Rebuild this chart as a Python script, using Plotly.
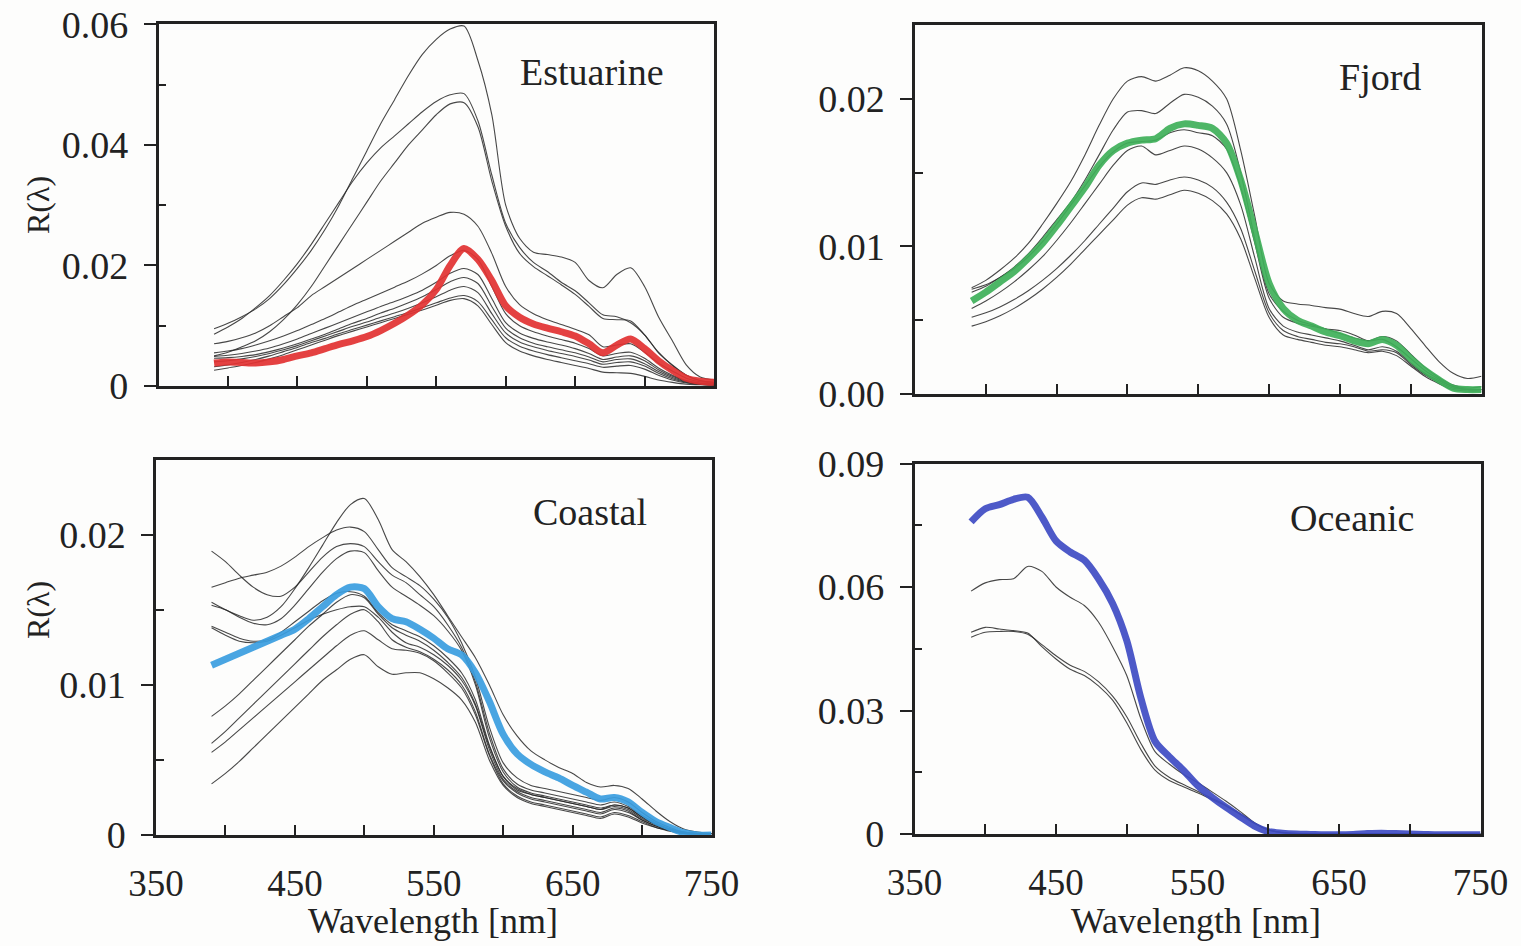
import plotly.graph_objects as go

# ---------------- data (reflectance values in units of 1e-3) ----------------
WL = [390, 400, 410, 420, 430, 440, 450, 460, 470, 480, 490, 500, 510, 520, 530,
      540, 550, 560, 570, 580, 590, 600, 610, 620, 630, 640, 650, 660, 670, 680,
      690, 700, 710, 720, 730, 740, 750]

# Estuarine
est_mean = [3.8, 4.0, 3.9, 3.8, 4.0, 4.4, 5.0, 5.5, 6.2, 6.9, 7.5, 8.2, 9.2, 10.4, 11.8, 13.5, 16.0, 20.0, 22.8,
            21.0, 17.5, 13.3, 11.4, 10.3, 9.6, 9.0, 8.3, 7.0, 5.5, 6.8, 7.8, 6.2, 4.2, 2.6, 1.3, 0.8, 0.6]
est_a = [9.5, 10.4, 11.5, 12.8, 14.5, 16.8, 19.5, 22.5, 26.0, 30.0, 34.5, 39.0, 43.5, 47.5, 51.5, 55.0, 57.5, 59.2, 59.7,
         54.0, 45.0, 30.0, 24.5, 22.2, 21.8, 21.4, 20.5, 17.5, 16.3, 18.5, 19.6, 16.5, 11.5, 7.5, 3.5, 1.5, 1.0]
est_b = [8.6, 9.8, 11.2, 13.0, 15.0, 17.5, 20.3, 23.5, 27.0, 30.5, 34.0, 37.0, 39.5, 41.5, 43.5, 45.5, 47.2, 48.3, 48.5,
         44.0, 35.0, 27.0, 23.0, 20.5, 19.0, 17.2, 15.8, 13.8, 11.8, 11.5, 10.5, 8.5, 5.5, 3.5, 1.8, 0.9, 0.6]
est_c = [5.0, 5.6, 6.5, 7.5, 9.0, 11.0, 13.5, 16.5, 20.0, 23.5, 27.0, 30.5, 34.0, 37.0, 40.0, 42.5, 45.0, 46.8, 47.0,
         43.0, 34.0, 26.5, 22.0, 19.8, 18.3, 16.8, 15.2, 13.2, 11.2, 11.0, 10.8, 8.5, 5.6, 3.4, 1.8, 0.9, 0.6]
est_d = [7.0, 7.4, 8.0, 8.8, 10.0, 11.5, 13.0, 15.0, 16.5, 18.0, 19.5, 21.0, 22.5, 24.0, 25.5, 27.0, 28.0, 28.8, 28.5,
         26.5, 22.0, 16.5, 13.5, 12.0, 11.0, 10.2, 9.4, 8.5, 6.5, 6.8, 7.0, 5.6, 3.8, 2.5, 1.3, 0.7, 0.5]
est_e = [5.5, 5.8, 6.2, 6.8, 7.5, 8.3, 9.2, 10.2, 11.2, 12.3, 13.4, 14.4, 15.4, 16.4, 17.4, 18.6, 20.0, 21.6, 22.5,
         21.0, 16.5, 12.0, 10.0, 9.0, 8.3, 7.7, 7.1, 6.2, 5.0, 5.4, 5.6, 4.6, 3.0, 1.8, 0.9, 0.5, 0.4]
est_f = [4.9, 5.1, 5.4, 5.8, 6.3, 7.0, 7.8, 8.7, 9.6, 10.5, 11.4, 12.3, 13.2, 14.0, 14.9, 15.9, 17.2, 18.7, 19.5,
         18.5, 14.5, 10.5, 8.8, 7.9, 7.3, 6.8, 6.2, 5.4, 4.4, 4.8, 5.0, 4.2, 2.7, 1.6, 0.8, 0.4, 0.3]
est_g = [4.6, 4.7, 4.9, 5.2, 5.7, 6.3, 7.0, 7.8, 8.6, 9.5, 10.4, 11.2, 12.1, 12.9, 13.8, 14.8, 16.0, 17.3, 18.0,
         17.0, 13.2, 9.6, 8.0, 7.1, 6.5, 6.0, 5.5, 4.8, 4.0, 4.4, 4.5, 3.7, 2.4, 1.4, 0.7, 0.4, 0.3]
est_h = [4.0, 4.2, 4.5, 4.9, 5.4, 6.0, 6.7, 7.5, 8.3, 9.1, 9.9, 10.6, 11.4, 12.1, 12.9, 13.8, 14.8, 15.9, 16.5,
         15.5, 12.0, 8.8, 7.3, 6.5, 5.9, 5.4, 4.9, 4.3, 3.6, 3.9, 4.0, 3.3, 2.1, 1.2, 0.6, 0.3, 0.2]
est_i = [3.2, 3.5, 3.9, 4.4, 5.0, 5.7, 6.4, 7.2, 7.9, 8.7, 9.4, 10.1, 10.8, 11.5, 12.2, 13.0, 13.8, 14.6, 15.0,
         14.0, 11.0, 8.0, 6.6, 5.8, 5.2, 4.7, 4.2, 3.7, 3.1, 3.3, 3.4, 2.8, 1.8, 1.0, 0.5, 0.3, 0.2]
est_j = [2.6, 3.0, 3.4, 3.9, 4.5, 5.2, 6.0, 6.8, 7.6, 8.4, 9.1, 9.8, 10.5, 11.2, 11.9, 12.6, 13.4, 14.2, 14.5,
         13.3, 10.2, 7.2, 5.8, 5.0, 4.4, 3.9, 3.4, 2.9, 2.3, 2.2, 2.1, 1.6, 1.0, 0.6, 0.3, 0.2, 0.1]

# Fjord
fjo_mean = [6.3, 6.9, 7.6, 8.3, 9.2, 10.2, 11.4, 12.7, 14.0, 15.5, 16.5, 17.0, 17.2, 17.3, 18.0, 18.3, 18.2, 18.0, 17.0,
            14.5, 11.0, 7.5, 5.8, 5.0, 4.6, 4.2, 3.95, 3.6, 3.4, 3.7, 3.3, 2.4, 1.6, 0.95, 0.4, 0.3, 0.3]
fjo_a = [7.2, 7.7, 8.4, 9.2, 10.2, 11.5, 12.9, 14.4, 16.2, 18.2, 20.0, 21.2, 21.5, 21.2, 21.6, 22.1, 21.9, 21.2, 20.0,
         16.5, 12.0, 7.5, 6.3, 6.1, 6.0, 5.85, 5.75, 5.45, 5.25, 5.6, 5.45, 4.45, 3.3, 2.2, 1.4, 1.05, 1.2]
fjo_b = [6.9, 7.3, 7.9, 8.6, 9.5, 10.6, 11.8, 13.0, 14.5, 16.2, 17.9, 19.1, 19.2, 19.0, 19.7, 20.3, 20.1, 19.5, 18.3,
         15.0, 10.5, 6.8, 5.6, 5.0, 4.7, 4.4, 4.1, 3.8, 3.6, 3.9, 3.6, 2.7, 1.8, 1.1, 0.6, 0.4, 0.5]
fjo_c = [7.1, 7.4, 7.9, 8.5, 9.3, 10.3, 11.5, 12.8, 14.1, 15.4, 16.4, 17.0, 17.1, 17.2, 17.7, 17.9, 17.7, 17.5, 16.6,
         14.0, 10.2, 6.5, 5.2, 4.8, 4.6, 4.4, 4.3, 4.0, 3.6, 3.7, 3.2, 2.4, 1.6, 1.0, 0.5, 0.3, 0.3]
fjo_d = [5.8, 6.3, 6.9, 7.6, 8.4, 9.3, 10.4, 11.6, 12.9, 14.2, 15.5, 16.5, 16.8, 16.2, 16.5, 16.8, 16.6, 16.0, 15.0,
         12.8, 9.2, 5.8, 4.6, 4.2, 4.0, 3.8, 3.6, 3.3, 3.0, 3.2, 2.9, 2.1, 1.4, 0.9, 0.5, 0.3, 0.3]
fjo_e = [5.2, 5.5, 5.9, 6.4, 7.0, 7.7, 8.5, 9.4, 10.4, 11.5, 12.6, 13.7, 14.3, 14.2, 14.5, 14.7, 14.5, 14.0, 13.0,
         11.2, 8.3, 5.5, 4.3, 3.9, 3.7, 3.5, 3.4, 3.2, 2.9, 3.0, 2.8, 2.0, 1.3, 0.8, 0.4, 0.3, 0.3]
fjo_f = [4.6, 4.9, 5.3, 5.8, 6.4, 7.1, 7.9, 8.8, 9.8, 10.8, 11.8, 12.8, 13.3, 13.2, 13.5, 13.8, 13.6, 13.1, 12.2,
         10.5, 7.8, 5.2, 4.0, 3.7, 3.5, 3.3, 3.2, 3.0, 2.8, 2.9, 2.6, 1.9, 1.2, 0.7, 0.3, 0.2, 0.2]

# Coastal
coa_mean = [11.3, 11.7, 12.1, 12.5, 12.9, 13.3, 13.7, 14.4, 15.2, 16.0, 16.5, 16.4, 15.2, 14.4, 14.2, 13.7, 13.1, 12.4, 12.0,
            10.8, 8.9, 6.7, 5.4, 4.7, 4.2, 3.8, 3.3, 2.85, 2.4, 2.5, 2.2, 1.5, 0.9, 0.5, 0.15, 0.0, 0.0]
coa_a = [15.5, 15.0, 14.6, 14.3, 14.5, 15.2, 16.4, 17.8, 19.3, 20.8, 22.0, 22.4, 21.0, 19.0, 18.2, 17.2, 16.0, 14.6, 13.2,
         11.8, 10.0, 8.0, 6.6, 5.6, 5.0, 4.5, 4.1, 3.5, 3.2, 3.3, 3.1, 2.4, 1.6, 0.9, 0.4, 0.2, 0.1]
coa_b = [18.9, 18.2, 17.3, 16.5, 16.0, 15.9, 16.5, 17.5, 18.5, 19.2, 19.4, 19.2, 18.2, 17.3, 16.8, 16.0, 15.2, 14.0, 12.5,
         10.2, 6.8, 4.4, 3.4, 3.0, 2.8, 2.6, 2.4, 2.2, 2.0, 2.2, 1.9, 1.3, 0.8, 0.4, 0.2, 0.1, 0.1]
coa_c = [16.5, 16.8, 17.1, 17.3, 17.5, 17.9, 18.5, 19.2, 19.8, 20.3, 20.5, 20.2, 19.0, 17.8, 17.2, 16.6, 15.7, 14.5, 12.8,
         10.5, 7.2, 4.8, 3.8, 3.3, 3.1, 2.9, 2.7, 2.5, 2.3, 2.5, 2.2, 1.5, 0.9, 0.5, 0.2, 0.1, 0.1]
coa_d = [15.3, 15.0, 14.5, 14.1, 14.0, 14.4, 15.3, 16.4, 17.5, 18.4, 18.9, 18.8, 17.6, 16.5, 15.9, 15.3, 14.6, 13.6, 12.3,
         10.0, 6.5, 4.2, 3.2, 2.8, 2.6, 2.4, 2.2, 2.0, 1.8, 2.0, 1.8, 1.2, 0.7, 0.4, 0.2, 0.1, 0.1]
coa_e = [13.9, 13.5, 13.1, 12.9, 13.0, 13.5, 14.2, 14.9, 15.6, 16.1, 16.2, 15.9, 14.8, 14.0, 13.6, 13.2, 12.6, 11.8, 10.8,
         9.0, 6.0, 3.9, 3.0, 2.7, 2.5, 2.3, 2.1, 1.9, 1.7, 1.9, 1.7, 1.1, 0.7, 0.35, 0.15, 0.1, 0.1]
coa_f = [13.8, 13.3, 12.9, 12.8, 12.9, 13.3, 13.8, 14.3, 14.7, 15.0, 15.2, 15.2, 14.5, 13.5, 12.8, 12.5, 12.0, 11.3, 10.3,
         8.6, 5.7, 3.7, 2.9, 2.5, 2.3, 2.1, 1.9, 1.7, 1.5, 1.8, 1.6, 1.0, 0.6, 0.3, 0.15, 0.1, 0.1]
coa_g = [7.9, 8.6, 9.4, 10.3, 11.2, 12.1, 13.0, 13.9, 14.7, 15.5, 16.0, 15.8, 14.7, 13.8, 13.3, 12.9, 12.3, 11.5, 10.5,
         8.7, 5.9, 3.9, 3.1, 2.7, 2.5, 2.3, 2.1, 1.9, 1.7, 2.0, 1.8, 1.2, 0.7, 0.4, 0.2, 0.1, 0.1]
coa_h = [6.1, 6.9, 7.8, 8.7, 9.6, 10.5, 11.4, 12.3, 13.2, 14.0, 14.7, 15.0, 14.2, 13.0, 12.5, 12.2, 11.7, 11.0, 10.0,
         8.2, 5.4, 3.6, 2.8, 2.4, 2.2, 2.0, 1.8, 1.6, 1.4, 1.7, 1.5, 1.0, 0.6, 0.3, 0.1, 0.1, 0.1]
coa_i = [5.5, 6.2, 7.0, 7.8, 8.6, 9.4, 10.2, 11.0, 11.8, 12.6, 13.3, 13.6, 13.0, 12.4, 12.3, 12.1, 11.6, 10.8, 9.8,
         8.0, 5.3, 3.4, 2.6, 2.2, 2.0, 1.8, 1.6, 1.4, 1.2, 1.5, 1.3, 0.9, 0.5, 0.3, 0.1, 0.05, 0.05]
coa_j = [3.4, 4.1, 4.9, 5.8, 6.7, 7.6, 8.5, 9.4, 10.3, 11.0, 11.7, 12.0, 11.2, 10.7, 10.8, 10.8, 10.4, 9.8, 9.0,
         7.5, 5.0, 3.3, 2.5, 2.1, 1.9, 1.7, 1.5, 1.3, 1.1, 1.4, 1.2, 0.8, 0.5, 0.25, 0.1, 0.05, 0.05]

# Oceanic
oce_mean = [75.8, 79.0, 80.0, 81.3, 81.8, 77.0, 71.2, 68.5, 66.5, 62.0, 56.0, 47.0, 33.0, 22.5, 18.8, 15.5, 11.8, 9.0, 6.5,
            4.2, 2.0, 0.6, 0.2, 0.0, -0.1, -0.2, -0.2, -0.1, 0.1, 0.2, 0.1, 0.0, -0.1, -0.2, -0.2, -0.2, -0.2]
oce_a = [59.0, 61.0, 61.8, 62.0, 65.0, 63.8, 60.0, 57.5, 55.5, 51.5, 45.5, 38.5, 28.0, 20.0, 17.0, 14.5, 12.5, 10.3, 8.0,
         5.5, 2.8, 1.0, 0.4, 0.2, 0.1, 0.1, 0.1, 0.1, 0.1, 0.1, 0.1, 0.1, 0.1, 0.1, 0.1, 0.1, 0.1]
oce_b = [49.0, 50.2, 49.8, 49.4, 48.8, 45.5, 42.5, 40.0, 38.5, 36.0, 32.5, 27.0, 20.5, 15.5, 13.0, 11.5, 10.0, 8.4, 6.8,
         4.8, 2.6, 1.0, 0.3, 0.1, 0.1, 0.1, 0.1, 0.1, 0.1, 0.1, 0.1, 0.1, 0.1, 0.1, 0.1, 0.1, 0.1]
oce_c = [47.8, 49.0, 49.2, 49.2, 48.5, 46.0, 43.3, 41.0, 39.5, 37.0, 33.5, 28.5, 22.0, 16.5, 13.8, 12.0, 10.4, 8.7, 7.0,
         5.0, 2.7, 1.0, 0.3, 0.1, 0.1, 0.1, 0.1, 0.1, 0.1, 0.1, 0.1, 0.1, 0.1, 0.1, 0.1, 0.1, 0.1]

PANELS = [
    ("Estuarine", [est_a, est_b, est_c, est_d, est_e, est_f, est_g, est_h, est_i, est_j], est_mean, "#e23232"),
    ("Fjord", [fjo_a, fjo_b, fjo_c, fjo_d, fjo_e, fjo_f], fjo_mean, "#3fb05a"),
    ("Coastal", [coa_a, coa_b, coa_c, coa_d, coa_e, coa_f, coa_g, coa_h, coa_i, coa_j], coa_mean, "#3a9ee0"),
    ("Oceanic", [oce_a, oce_b, oce_c], oce_mean, "#3f4cc4"),
]

Y_TICKS = [
    ([0, 0.02, 0.04, 0.06], ["0", "0.02", "0.04", "0.06"], [0.01, 0.03, 0.05], [0, 0.06]),
    ([0, 0.01, 0.02], ["0.00", "0.01", "0.02"], [0.005, 0.015], [0, 0.025]),
    ([0, 0.01, 0.02], ["0", "0.01", "0.02"], [0.005, 0.015], [0, 0.025]),
    ([0, 0.03, 0.06, 0.09], ["0", "0.03", "0.06", "0.09"], [0.015, 0.045, 0.075], [0, 0.09]),
]
X_LABELS = [350, 450, 550, 650, 750]
X_MINOR = [400, 500, 600, 700]

# ---------------- figure ----------------
W, H = 1521, 946
FONT = "Liberation Serif"
INK = "#222222"
GRAY = "rgba(40,40,40,0.85)"

# pixel boxes of the four plot areas: (left, right, top, bottom)
BOXES = [(158.5, 714, 24.3, 386), (915, 1481.5, 25, 394),
         (156, 711.5, 459.5, 835), (914.5, 1480.5, 463.5, 834)]
LABEL_POS = [(592, 72), (1380, 77), (590, 512), (1352, 518)]

fig = go.Figure()
layout = {}
for i, (name, grays, mean, color) in enumerate(PANELS):
    n = "" if i == 0 else str(i + 1)
    for g in grays:
        fig.add_trace(go.Scatter(x=WL, y=[v / 1000 for v in g], mode="lines",
                                 line=dict(color=GRAY, width=1.1, shape="spline", smoothing=0.8),
                                 xaxis="x" + n, yaxis="y" + n, showlegend=False, hoverinfo="skip"))
    fig.add_trace(go.Scatter(x=WL, y=[v / 1000 for v in mean], mode="lines",
                             line=dict(color=color, width=7, shape="spline", smoothing=0.8),
                             opacity=0.92, xaxis="x" + n, yaxis="y" + n, showlegend=False,
                             name=name))
    l, r, t, b = BOXES[i]
    tv, tt, minor_v, yr = Y_TICKS[i]
    bottom_row = i >= 2
    layout["xaxis" + n] = dict(
        domain=[l / W, r / W], anchor="y" + n, range=[350, 750], automargin=False,
        tickmode="array", tickvals=X_LABELS, ticktext=[str(v) for v in X_LABELS],
        ticks="inside", ticklen=10, tickwidth=2, tickcolor=INK,
        minor=dict(tickmode="array", tickvals=X_MINOR, ticks="inside", ticklen=10,
                   tickwidth=2, tickcolor=INK, showgrid=False),
        showticklabels=bottom_row, ticklabelstandoff=14,
        tickfont=dict(family=FONT, size=37, color=INK),
        showline=True, linewidth=2.5, linecolor=INK, mirror=True,
        showgrid=False, zeroline=False)
    layout["yaxis" + n] = dict(
        domain=[1 - b / H, 1 - t / H], anchor="x" + n, range=yr, automargin=False,
        tickmode="array", tickvals=tv, ticktext=tt,
        ticks="outside", ticklen=12, tickwidth=2, tickcolor=INK,
        minor=dict(tickmode="array", tickvals=minor_v, ticks="inside", ticklen=8,
                   tickwidth=2, tickcolor=INK, showgrid=False),
        ticklabelstandoff=8,
        tickfont=dict(family=FONT, size=38, color=INK),
        showline=True, linewidth=2.5, linecolor=INK, mirror=True,
        showgrid=False, zeroline=False)

annotations = []
for (name, _, _, _), (px, py) in zip(PANELS, LABEL_POS):
    annotations.append(dict(text=name, x=px / W, y=1 - py / H, xref="paper", yref="paper",
                            showarrow=False, font=dict(family=FONT, size=38, color=INK),
                            xanchor="center", yanchor="middle"))
for py in (205, 610):
    annotations.append(dict(text="R(λ)", x=38 / W, y=1 - py / H, xref="paper", yref="paper",
                            showarrow=False, textangle=-90,
                            font=dict(family=FONT, size=32, color=INK),
                            xanchor="center", yanchor="middle"))
for px in (433, 1196):
    annotations.append(dict(text="Wavelength [nm]", x=px / W, y=1 - 921 / H, xref="paper", yref="paper",
                            showarrow=False, font=dict(family=FONT, size=36, color=INK),
                            xanchor="center", yanchor="middle"))

fig.update_layout(template="none", width=W, height=H, margin=dict(l=0, r=0, t=0, b=0, pad=0),
                  paper_bgcolor="#fdfdfc", plot_bgcolor="#fdfdfc",
                  showlegend=False, annotations=annotations, **layout)

fig.write_html("out.html")
